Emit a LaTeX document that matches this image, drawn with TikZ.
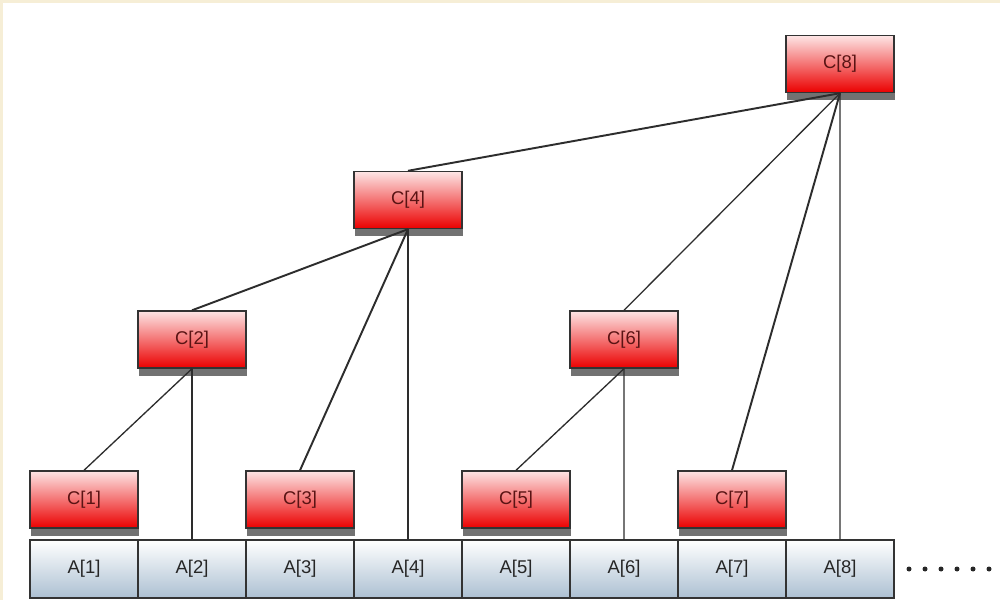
\documentclass[tikz,border=0pt]{standalone}
\usepackage{fontspec}
\setmainfont{Liberation Sans}
\usepackage{xcolor}
\usepackage{tikz}
\usetikzlibrary{shadows}
\definecolor{vermelho}{RGB}{235,0,0}
\definecolor{texto}{RGB}{90,20,20}
\definecolor{aco}{RGB}{172,192,210}
\definecolor{linha}{RGB}{45,45,45}
\definecolor{bege}{RGB}{246,238,214}

\begin{document}
\begin{tikzpicture}[
    caixaC/.style={draw=black!80, thick, minimum width=21.6mm, minimum height=11.4mm, inner sep=0pt,
      top color=vermelho!10, middle color=vermelho!80, bottom color=vermelho,
      text=texto, font=\fontsize{10.5}{12}\selectfont,
      drop shadow={shadow xshift=0.3pt, shadow yshift=-4.4pt, fill=black!58, opacity=0.95}},
    caixaA/.style={draw=black!80, thick, minimum width=21.6mm, minimum height=11.6mm, inner sep=0pt,
      top color=white, bottom color=aco, text=black!85, font=\fontsize{10.5}{12}\selectfont},
    ligaG/.style={linha, line width=1.1pt},
    ligaF/.style={linha, line width=0.75pt}
  ]
    \useasboundingbox (0,0) rectangle (20,12);
    \fill[white] (0,0) rectangle (20,12);
    \fill[bege] (0,0) rectangle (0.05,12);
    \fill[bege] (0,11.93) rectangle (20,12);

    \foreach \i in {1,...,8} {
      \node[caixaA] (a\i) at ({1.68+2.16*(\i-1)},0.62) {A[\i]};
    }

    \node[caixaC] (c1) at (1.68,2.01) {C[1]};
    \node[caixaC] (c3) at (6.00,2.01) {C[3]};
    \node[caixaC] (c5) at (10.32,2.01) {C[5]};
    \node[caixaC] (c7) at (14.64,2.01) {C[7]};
    \node[caixaC] (c2) at (3.84,5.21) {C[2]};
    \node[caixaC] (c6) at (12.48,5.21) {C[6]};
    \node[caixaC] (c4) at (8.16,8.00) {C[4]};
    \node[caixaC] (c8) at (16.80,10.72) {C[8]};

    \draw[ligaF] (c2.south) -- (c1.north);
    \draw[ligaF] (c2.south) -- (a2.north);
    \draw[ligaG] (c4.south) -- (c2.north);
    \draw[ligaG] (c4.south) -- (c3.north);
    \draw[ligaF] (c4.south) -- (a4.north);
    \draw[ligaF] (c6.south) -- (c5.north);
    \draw[ligaF] (c6.south) -- (a6.north);
    \draw[ligaG] (c8.south) -- (c4.north);
    \draw[ligaF] (c8.south) -- (c6.north);
    \draw[ligaG] (c8.south) -- (c7.north);
    \draw[ligaF] (c8.south) -- (a8.north);

    \foreach \k in {0,...,5} {
      \fill[black!85] ({18.18+0.32*\k},0.62) circle (0.05);
    }
  \end{tikzpicture}
\end{document}
